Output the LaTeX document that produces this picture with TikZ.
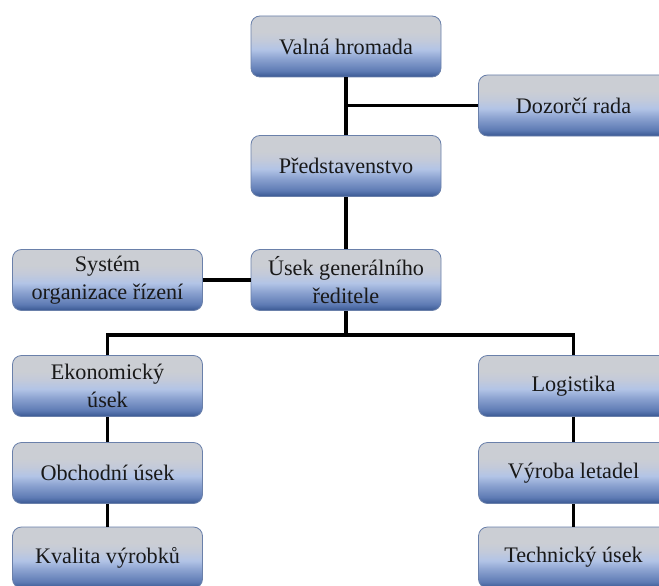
\documentclass[tikz,border=0pt]{standalone}
\usepackage{fontspec}
\setmainfont{Liberation Serif}
\definecolor{boxtop}{HTML}{CBCED4}
\definecolor{boxtopb}{HTML}{C3CADA}
\definecolor{boxmid}{HTML}{B2C4E6}
\definecolor{boxmidb}{HTML}{8BA2D0}
\definecolor{boxlow}{HTML}{5E7BB4}
\definecolor{boxbot}{HTML}{395792}
\definecolor{boxline}{HTML}{6A80AA}
\pgfdeclareverticalshading{boxshade}{100bp}{color(0bp)=(boxbot); color(25bp)=(boxbot); color(30bp)=(boxlow); color(40bp)=(boxmidb); color(47.5bp)=(boxmid); color(55bp)=(boxtopb); color(62bp)=(boxtop); color(75bp)=(boxtop); color(100bp)=(boxtop)}
\tikzset{
  orgbox/.style={draw=boxline, line width=0.8pt, shading=boxshade, rounded corners=9pt,
    minimum width=190pt, minimum height=61pt, inner sep=0pt, align=center,
    font=\fontsize{22.2}{27.5}\selectfont, text=black!90},
  conn/.style={line width=3.5pt, black}
}
\begin{document}
\begin{tikzpicture}[x=1pt,y=1pt]
\useasboundingbox (0,0) rectangle (659,-586);
\clip (0,0) rectangle (659,-586);
\node[orgbox] (v) at (346,-46.5) {Valná hromada};
\node[orgbox] (d) at (573.5,-105.5) {Dozorčí rada};
\node[orgbox] (p) at (346,-166) {Představenstvo};
\node[orgbox] (u) at (346,-280) {Úsek generálního\\ředitele};
\node[orgbox] (s) at (107.5,-280) {Systém\\organizace řízení};
\node[orgbox] (e) at (107.5,-386) {Ekonomický\\úsek};
\node[orgbox] (l) at (573.5,-386) {Logistika};
\node[orgbox] (o) at (107.5,-473) {Obchodní úsek};
\node[orgbox] (vy) at (573.5,-473) {Výroba letadel};
\node[orgbox] (k) at (107.5,-557.5) {Kvalita výrobků};
\node[orgbox] (t) at (573.5,-557.5) {Technický úsek};
\coordinate (bus) at (346,-335);
\draw[conn] (v.south) -- (p.north);
\draw[conn] (v.south |- d.west) -- (d.west);
\draw[conn] (p.south) -- (u.north);
\draw[conn] (s.east) -- (u.west);
\draw[conn] (u.south) -- (bus);
\draw[conn] (e.north) |- (bus) -| (l.north);
\draw[conn] (e.south) -- (o.north);
\draw[conn] (o.south) -- (k.north);
\draw[conn] (l.south) -- (vy.north);
\draw[conn] (vy.south) -- (t.north);
\end{tikzpicture}
\end{document}
